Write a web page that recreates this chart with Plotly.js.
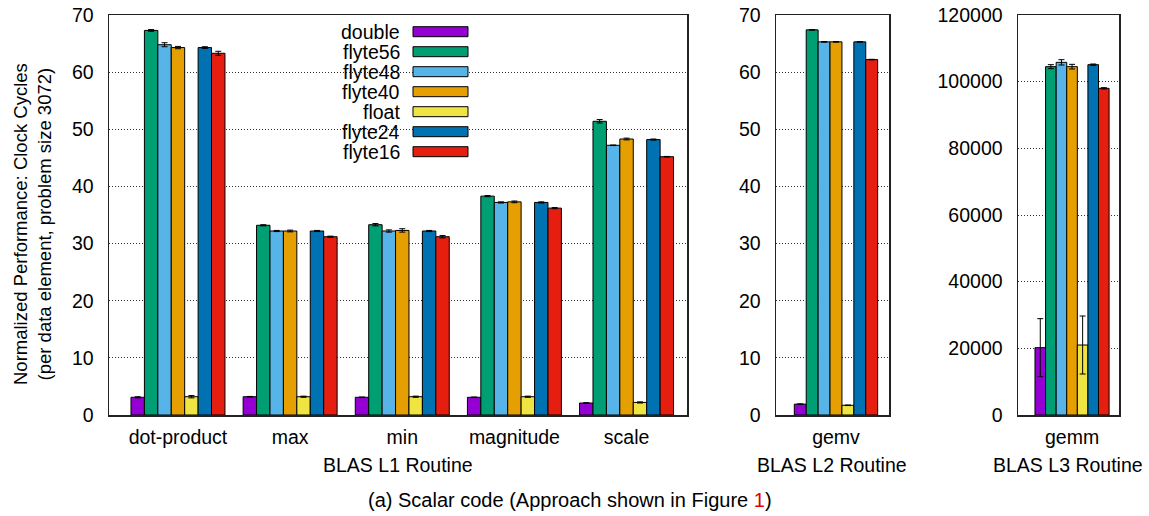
<!DOCTYPE html>
<html>
<head>
<meta charset="utf-8">
<script src="https://cdn.plot.ly/plotly-3.0.1.min.js"></script>
<style>html,body{margin:0;padding:0;background:#fff;}#chart{width:1149px;height:516px;}</style>
</head>
<body>
<div id="chart"></div>
<script>
// ---- data ----
const seriesNames = ["double", "flyte56", "flyte48", "flyte40", "float", "flyte24", "flyte16"];
const seriesColors = ["#9400d3", "#009e73", "#56b4e9", "#e69f00", "#f0e442", "#0072b2", "#e51e10"];

const l1Routines = ["dot-product", "max", "min", "magnitude", "scale"];
const l2Routines = ["gemv"];
const l3Routines = ["gemm"];

// L1 values per series (order of l1Routines)
const l1Double  = [3.1, 3.2, 3.1, 3.1, 2.1];
const l1Flyte56 = [67.3, 33.2, 33.3, 38.3, 51.4];
const l1Flyte48 = [64.8, 32.2, 32.2, 37.2, 47.2];
const l1Flyte40 = [64.3, 32.2, 32.3, 37.3, 48.3];
const l1Float   = [3.2, 3.2, 3.2, 3.2, 2.2];
const l1Flyte24 = [64.3, 32.2, 32.2, 37.2, 48.2];
const l1Flyte16 = [63.3, 31.2, 31.2, 36.2, 45.2];

const l1DoubleErr  = [0.1, 0.05, 0.05, 0.05, 0.05];
const l1Flyte56Err = [0.15, 0.1, 0.2, 0.1, 0.3];
const l1Flyte48Err = [0.35, 0.1, 0.2, 0.1, 0.05];
const l1Flyte40Err = [0.2, 0.15, 0.3, 0.15, 0.15];
const l1FloatErr   = [0.2, 0.1, 0.1, 0.1, 0.1];
const l1Flyte24Err = [0.15, 0.1, 0.1, 0.1, 0.1];
const l1Flyte16Err = [0.35, 0.1, 0.2, 0.1, 0.05];

// L2 (gemv)
const l2Values = [1.9, 67.4, 65.3, 65.3, 1.7, 65.3, 62.2];
const l2Errors = [0.05, 0.05, 0.05, 0.05, 0.05, 0.05, 0.05];

// L3 (gemm)
const l3Values = [20200, 104500, 105800, 104500, 21000, 105100, 98000];
const l3Errors = [8700, 600, 800, 700, 8700, 200, 200];

const l1Tick = [0, 10, 20, 30, 40, 50, 60, 70];
const l3Tick = [0, 20000, 40000, 60000, 80000, 100000, 120000];

// ---- build ----
const l1Vals = [l1Double, l1Flyte56, l1Flyte48, l1Flyte40, l1Float, l1Flyte24, l1Flyte16];
const l1Errs = [l1DoubleErr, l1Flyte56Err, l1Flyte48Err, l1Flyte40Err, l1FloatErr, l1Flyte24Err, l1Flyte16Err];

const W = 1149, H = 516;
const FONT = "Liberation Sans, Arial, Helvetica, sans-serif";
const FS = 19.5;
const traces = [];
function bar(x, y, e, i, xa, ya) {
  return {
    type: "bar", x: x, y: y, xaxis: xa, yaxis: ya, name: seriesNames[i], showlegend: false,
    marker: {color: seriesColors[i], line: {color: "#000", width: 1}},
    error_y: {type: "data", array: e, visible: true, color: "#000", thickness: 1, width: 3},
    hoverinfo: "skip"
  };
}
seriesNames.forEach((n, i) => {
  traces.push(bar(l1Routines, l1Vals[i], l1Errs[i], i, "x", "y"));
  traces.push(bar(l2Routines, [l2Values[i]], [l2Errors[i]], i, "x2", "y2"));
  traces.push(bar(l3Routines, [l3Values[i]], [l3Errors[i]], i, "x3", "y3"));
});

const px = v => v / W;
const py = v => 1 - v / H;
const yDom = [py(415), py(15)];

const xCommon = {
  type: "category", showline: true, mirror: true, linecolor: "#222", linewidth: 1.5,
  ticks: "", showgrid: false, zeroline: false, fixedrange: true, ticklabelstandoff: 4,
  tickfont: {family: FONT, size: FS, color: "#000"}
};
const yCommon = {
  showline: true, mirror: true, linecolor: "#222", linewidth: 1.5,
  ticks: "", showgrid: true, gridcolor: "#333", griddash: "1px,2px", gridwidth: 1,
  zeroline: false, fixedrange: true, domain: yDom, ticklabelstandoff: 10, tickformat: "d",
  tickfont: {family: FONT, size: FS, color: "#000"}
};

const layout = {
  width: W, height: H,
  margin: {l: 0, r: 0, t: 0, b: 0},
  paper_bgcolor: "#fff", plot_bgcolor: "#fff",
  barmode: "group", bargap: 0.162, bargroupgap: 0,
  showlegend: false,
  font: {family: FONT, size: FS, color: "#000"},
  xaxis:  Object.assign({}, xCommon, {domain: [px(109), px(687)], range: [-0.615, 4.539], anchor: "y"}),
  xaxis2: Object.assign({}, xCommon, {domain: [px(776), px(889)], range: [-0.603, 0.533], anchor: "y2"}),
  xaxis3: Object.assign({}, xCommon, {domain: [px(1018), px(1119)], range: [-0.611, 0.531], anchor: "y3"}),
  yaxis:  Object.assign({}, yCommon, {range: [0, 70], tickvals: l1Tick, anchor: "x"}),
  yaxis2: Object.assign({}, yCommon, {range: [0, 70], tickvals: l1Tick, anchor: "x2"}),
  yaxis3: Object.assign({}, yCommon, {range: [0, 120000], tickvals: l3Tick, anchor: "x3"}),
  shapes: [
    {type: "rect", xref: "x domain", yref: "y domain", x0: 0.361, x1: 0.6415, y0: 0.64, y1: 0.985,
     fillcolor: "#fff", line: {width: 0}, layer: "below"}
  ],
  annotations: [
    {text: "Normalized Performance: Clock Cycles<br>(per data element, problem size 3072)",
     xref: "paper", yref: "paper", x: px(32), y: py(224), textangle: -90,
     showarrow: false, font: {family: FONT, size: 18.5}, xanchor: "center", yanchor: "middle"},
    {text: "BLAS L1 Routine", xref: "paper", yref: "paper", x: px(398), y: py(465),
     showarrow: false, font: {family: FONT, size: FS}, xanchor: "center", yanchor: "middle"},
    {text: "BLAS L2 Routine", xref: "paper", yref: "paper", x: px(832), y: py(465),
     showarrow: false, font: {family: FONT, size: FS}, xanchor: "center", yanchor: "middle"},
    {text: "BLAS L3 Routine", xref: "paper", yref: "paper", x: px(1068), y: py(465),
     showarrow: false, font: {family: FONT, size: FS}, xanchor: "center", yanchor: "middle"},
    {text: "(a) Scalar code (Approach shown in Figure <span style='color:#e00000'>1</span>)",
     xref: "paper", yref: "paper", x: px(570), y: py(500),
     showarrow: false, font: {family: FONT, size: 20}, xanchor: "center", yanchor: "middle"}
  ]
};

// custom legend (text to the left of swatch, like gnuplot)
seriesNames.forEach((n, i) => {
  const cy = 31.7 + 20 * i;
  layout.annotations.push({text: n, xref: "paper", yref: "paper", x: px(402), y: py(cy),
    xanchor: "right", yanchor: "middle", showarrow: false, font: {family: FONT, size: FS}});
  layout.shapes.push({type: "rect", xref: "paper", yref: "paper",
    x0: px(413), x1: px(468), y0: py(cy + 5), y1: py(cy - 5),
    fillcolor: seriesColors[i], line: {color: "#000", width: 1}, layer: "above"});
});

Plotly.newPlot("chart", traces, layout, {staticPlot: true, displayModeBar: false});
</script>
</body>
</html>
